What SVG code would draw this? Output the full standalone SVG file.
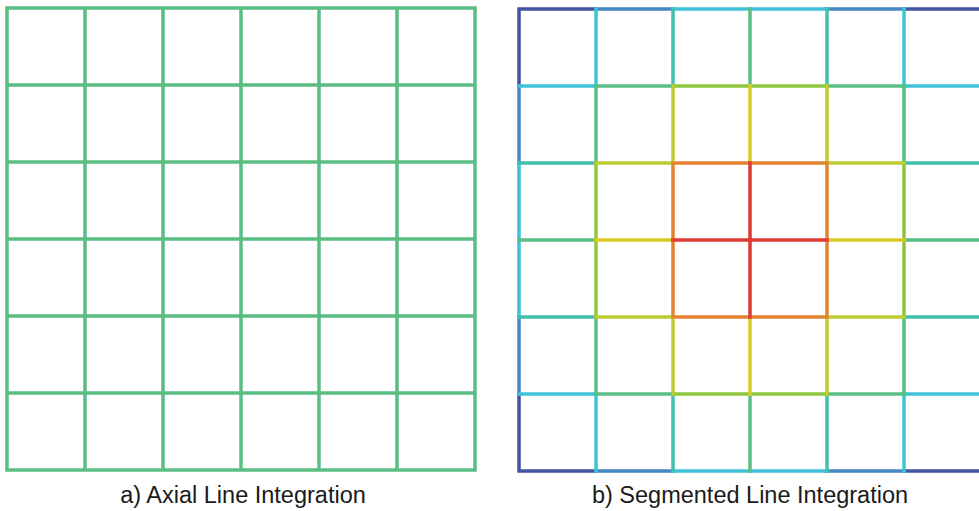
<svg xmlns="http://www.w3.org/2000/svg" width="979" height="511" viewBox="0 0 979 511">
<style>
.g{fill:none;stroke-width:3.5;stroke-linecap:square}
.c0{stroke:#4652a3}.c1{stroke:#4686c6}.c2{stroke:#3fc3d8}.c3{stroke:#42bfb0}.c4{stroke:#5abd82}
.c5{stroke:#8ec63f}.c6{stroke:#bfcc32}.c7{stroke:#ddcb25}.c8{stroke:#e38432}.c9{stroke:#e03a36}
.lbl{font-family:"Liberation Sans",Arial,sans-serif;font-size:23.5px;fill:#1a1a1a;text-anchor:middle}
</style>
<rect width="979" height="511" fill="#ffffff"/>
<g id="axial-grid">
<path class="g c4" d="M7 8H475M7 85H475M7 162H475M7 239H475M7 316H475M7 393H475M7 470H475M7 8V470M85 8V470M163 8V470M241 8V470M319 8V470M397 8V470M475 8V470"/>
</g>
<g id="segmented-grid">
<path class="g c0" d="M519 9H596M904 9H981M519 471H596M904 471H981M519 9V86M519 394V471"/>
<path class="g c1" d="M596 9H673M827 9H904M596 471H673M827 471H904M519 86V163M519 317V394"/>
<path class="g c2" d="M673 9H827M673 471H827M519 86H596M904 86H981M519 394H596M904 394H981M519 163V317M596 9V86M596 394V471M904 9V86M904 394V471"/>
<path class="g c3" d="M519 163H596M904 163H981M519 317H596M904 317H981M673 9V86M673 394V471M827 9V86M827 394V471"/>
<path class="g c4" d="M596 86H673M827 86H904M596 394H673M827 394H904M519 240H596M904 240H981M596 86V163M596 317V394M904 86V163M904 317V394M750 9V86M750 394V471"/>
<path class="g c5" d="M673 86H827M673 394H827M596 163V317M904 163V317"/>
<path class="g c6" d="M596 163H673M827 163H904M596 317H673M827 317H904M673 86V163M673 317V394M827 86V163M827 317V394"/>
<path class="g c7" d="M596 240H673M827 240H904M750 86V163M750 317V394"/>
<path class="g c8" d="M673 163H827M673 317H827M673 163V317M827 163V317"/>
<path class="g c9" d="M673 240H827M750 163V317"/>
</g>
<g id="labels">
<text class="lbl" x="243" y="503">a) Axial Line Integration</text>
<text class="lbl" x="750" y="503">b) Segmented Line Integration</text>
</g>
</svg>
